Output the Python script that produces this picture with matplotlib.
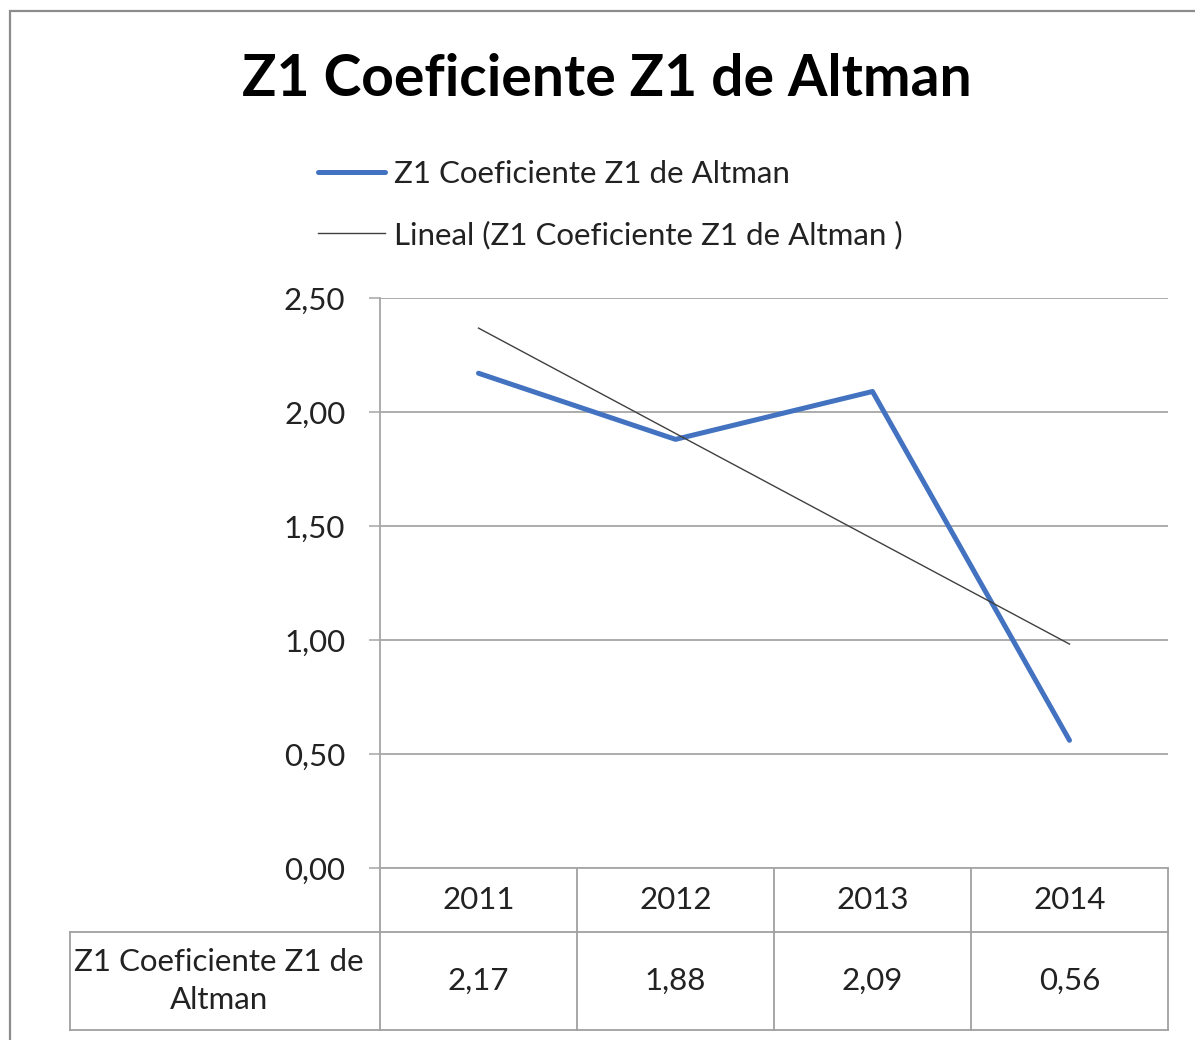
import matplotlib.pyplot as plt
import matplotlib.transforms as mtransforms
import numpy as np

plt.rcParams['font.family'] = ['Lato', 'DejaVu Sans']

# Data
years = ['2011', '2012', '2013', '2014']
z1 = [2.17, 1.88, 2.09, 0.56]
series_name = 'Z1 Coeficiente Z1 de Altman'
trend_name = 'Lineal (Z1 Coeficiente Z1 de Altman )'
row_label = 'Z1 Coeficiente Z1 de\nAltman'
yticks = [0.0, 0.5, 1.0, 1.5, 2.0, 2.5]

W, H = 1195, 1040
fs = 22.5
fig = plt.figure(figsize=(W / 100, H / 100), dpi=100)

# outer chart border
fig.patches.append(plt.Rectangle((10 / W, -0.1), 1.2, 1 - 11 / H + 0.1,
                                 transform=fig.transFigure, fill=False,
                                 edgecolor='#8c8c8c', linewidth=1.6))

ax = fig.add_axes([380 / W, 1 - 868 / H, 788 / W, 570 / H])

x = np.arange(len(years))
line_main, = ax.plot(x, z1, color='#4272c0', linewidth=3.6,
                     solid_capstyle='round', label=series_name, zorder=3)

# linear trend line
slope, intercept = np.polyfit(x, z1, 1)
line_trend, = ax.plot(x, slope * x + intercept, color='#404040',
                      linewidth=1.0, label=trend_name, zorder=4)

ax.set_xlim(-0.5, len(years) - 0.5)
ax.set_ylim(0, 2.5)
ax.set_yticks(yticks)
ax.set_yticklabels([f'{v:.2f}'.replace('.', ',') for v in yticks])
ax.yaxis.grid(True, color='#a6a6a6', linewidth=1.3)
ax.set_axisbelow(True)
ax.tick_params(axis='y', length=8, width=1.1, color='#a6a6a6', pad=17,
               labelsize=fs, labelcolor='#222222')
ax.tick_params(axis='x', bottom=False, labelbottom=False)
for s in ['top', 'right']:
    ax.spines[s].set_visible(False)
ax.spines['left'].set_color('#a6a6a6')
ax.spines['bottom'].set_color('#a6a6a6')
ax.spines['left'].set_linewidth(1.3)
ax.spines['bottom'].set_linewidth(1.3)

# data table below the axes
tr = mtransforms.blended_transform_factory(ax.transData, ax.transAxes)
gcol = '#a0a0a0'
y_head = -64 / 570
y_bot = -162 / 570
x_left = -0.5 - 310 / 197
x_right = len(years) - 0.5
kw = dict(transform=tr, color=gcol, linewidth=1.3, clip_on=False)
ax.plot([-0.5, x_right], [y_head, y_head], **kw)
ax.plot([x_left, -0.5], [y_head, y_head], **kw)
ax.plot([x_left, x_right], [y_bot, y_bot], **kw)
ax.plot([x_left, x_left], [y_head, y_bot], **kw)
for b in np.arange(len(years) + 1) - 0.5:
    ax.plot([b, b], [0, y_bot], **kw)
for i, (yr, v) in enumerate(zip(years, z1)):
    ax.text(i, y_head / 2, yr, transform=tr, ha='center', va='center',
            fontsize=fs, color='#222222')
    ax.text(i, (y_head + y_bot) / 2, f'{v:.2f}'.replace('.', ','),
            transform=tr, ha='center', va='center', fontsize=fs,
            color='#222222')
ax.text((x_left - 0.5) / 2 - 0.03, (y_head + y_bot) / 2, row_label,
        transform=tr, ha='center', va='center', fontsize=fs,
        color='#222222', linespacing=1.45)

fig.text(607 / W, 1 - 79 / H, 'Z1 Coeficiente Z1 de Altman', ha='center',
         va='center', fontsize=41, fontweight='bold', color='black')

fig.legend(handles=[line_main, line_trend], loc='center left',
           bbox_to_anchor=(318 / W, 1 - 204.5 / H), frameon=False,
           fontsize=fs, handlelength=2.15, handletextpad=0.28,
           labelspacing=1.05, borderpad=0, borderaxespad=0,
           labelcolor='#222222')

fig.savefig('out.png', dpi=100, facecolor='white')
